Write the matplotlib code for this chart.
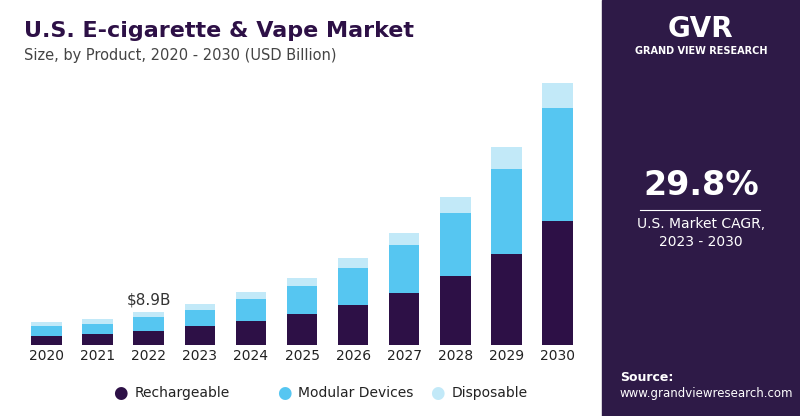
import matplotlib
matplotlib.use("Agg")
import matplotlib.pyplot as plt
import numpy as np

years = ["2020","2021","2022","2023","2024","2025","2026","2027","2028","2029","2030"]
rechargeable = [2.6, 3.1, 3.9, 5.2, 6.6, 8.4, 10.7, 14.1, 18.6, 24.6, 33.3]
modular = [2.6, 2.6, 3.7, 4.2, 5.8, 7.6, 10.0, 12.8, 17.0, 22.8, 30.4]
disposable = [1.0, 1.3, 1.3, 1.8, 1.8, 2.1, 2.6, 3.1, 4.2, 5.8, 6.6]

c_dark, c_mod, c_disp = "#2d1046", "#56c6f1", "#c2e9f8"
fig = plt.figure(figsize=(8, 4.16), dpi=100)
fig.patch.set_facecolor("white")
fig.add_artist(plt.Rectangle((0.753, 0), 0.247, 1, transform=fig.transFigure, color="#2e1a47", zorder=0))
ax = fig.add_axes([0.02, 0.17, 0.715, 0.645])
x = np.arange(len(years))
r = np.array(rechargeable); m = np.array(modular); d = np.array(disposable)
ax.bar(x, r, 0.6, color=c_dark)
ax.bar(x, m, 0.6, bottom=r, color=c_mod)
ax.bar(x, d, 0.6, bottom=r+m, color=c_disp)
ax.set_xlim(-0.6, 10.6)
ax.set_ylim(0, 72)
for s in ax.spines.values(): s.set_visible(False)
ax.set_yticks([])
ax.set_xticks(x, years, fontsize=10, color="#222222")
ax.tick_params(length=0, pad=3)
ax.text(2, r[2]+m[2]+d[2]+2, "$8.9B", ha="center", fontsize=11, color="#333333")

fig.text(0.03, 0.91, "U.S. E-cigarette & Vape Market", fontsize=16, fontweight="bold", color="#2d1046")
fig.text(0.03, 0.855, "Size, by Product, 2020 - 2030 (USD Billion)", fontsize=10.5, color="#444444")
labels = ["Rechargeable", "Modular Devices", "Disposable"]
for xx, lab, c in zip([0.15, 0.355, 0.547], labels, [c_dark, c_mod, c_disp]):
    fig.text(xx, 0.055, "●", color=c, fontsize=12, va="center", ha="center")
    fig.text(xx+0.018, 0.055, lab, fontsize=10, va="center", color="#222222")

fig.text(0.876, 0.87, "GRAND VIEW RESEARCH", color="white", fontsize=7, fontweight="bold", ha="center")
fig.text(0.876, 0.93, "GVR", color="white", fontsize=20, fontweight="bold", ha="center", va="center")
fig.text(0.876, 0.555, "29.8%", color="white", fontsize=24, fontweight="bold", ha="center", va="center")
fig.add_artist(plt.Line2D([0.8, 0.95], [0.495, 0.495], color="white", lw=0.8, transform=fig.transFigure))
fig.text(0.876, 0.44, "U.S. Market CAGR,\n2023 - 2030", color="white", fontsize=10, ha="center", va="center", linespacing=1.3)
fig.text(0.775, 0.085, "Source:", color="white", fontsize=9, fontweight="bold")
fig.text(0.775, 0.045, "www.grandviewresearch.com", color="white", fontsize=8.5)
fig.savefig("out.png", dpi=100)
